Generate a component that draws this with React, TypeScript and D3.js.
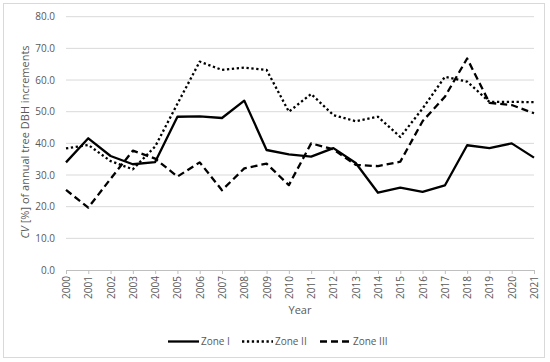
import { useEffect, useRef } from "react";
import * as d3 from "d3";

const years = [
  2000, 2001, 2002, 2003, 2004, 2005, 2006, 2007, 2008, 2009, 2010, 2011,
  2012, 2013, 2014, 2015, 2016, 2017, 2018, 2019, 2020, 2021,
];
const zone1 = [
  34.0, 41.6, 36.0, 33.4, 34.1, 48.4, 48.5, 48.0, 53.5, 37.9, 36.5, 35.8,
  38.5, 33.8, 24.4, 26.0, 24.7, 26.7, 39.4, 38.5, 40.0, 35.5,
];
const zone2 = [
  38.4, 39.5, 34.4, 31.8, 39.0, 52.5, 65.8, 63.2, 63.9, 63.2, 50.0, 55.6,
  48.9, 47.0, 48.4, 42.0, 51.0, 61.0, 59.5, 53.1, 53.1, 53.0,
];
const zone3 = [
  25.3, 19.7, 28.8, 37.7, 35.2, 29.5, 34.0, 25.2, 32.1, 33.6, 26.8, 40.0,
  38.1, 33.2, 32.8, 34.2, 47.0, 54.7, 66.8, 52.8, 52.1, 49.5,
];
const yTicks = [0, 10, 20, 30, 40, 50, 60, 70, 80];

const seriesNames = ["Zone I", "Zone II", "Zone III"];
const dashes = ["none", "2.3,2.6", "7,4"];

const FONT = "'Open Sans', 'Noto Sans', sans-serif";
const TEXT = "#595959";

export default function App() {
  const svgRef = useRef<SVGSVGElement>(null);
  const width = 550;
  const height = 362;

  useEffect(() => {
    if (!svgRef.current) return;
    const svg = d3.select(svgRef.current);
    svg.selectAll("*").remove();

    // outer frame
    svg
      .append("rect")
      .attr("x", 3.5)
      .attr("y", 3.5)
      .attr("width", 541)
      .attr("height", 354)
      .attr("fill", "white")
      .attr("stroke", "#d9d9d9");

    const x = d3.scaleLinear().domain([2000, 2021]).range([66, 534]);
    const y = d3.scaleLinear().domain([0, 80]).range([270, 16.7]);

    // gridlines
    svg
      .append("g")
      .selectAll("line")
      .data(yTicks.filter((d) => d > 0))
      .enter()
      .append("line")
      .attr("x1", 66)
      .attr("x2", 534)
      .attr("y1", (d) => y(d))
      .attr("y2", (d) => y(d))
      .attr("stroke", "#d9d9d9")
      .attr("stroke-width", 1);

    // y tick labels
    svg
      .append("g")
      .selectAll("text")
      .data(yTicks)
      .enter()
      .append("text")
      .attr("x", 55)
      .attr("y", (d) => y(d))
      .attr("dy", "0.35em")
      .attr("text-anchor", "end")
      .attr("font-family", FONT)
      .attr("font-size", 10)
      .attr("fill", TEXT)
      .text((d) => d.toFixed(1));

    // x axis
    const xAxis = svg
      .append("g")
      .attr("transform", `translate(0,${y(0)})`)
      .call(
        d3
          .axisBottom(x)
          .tickValues(years)
          .tickSize(4)
          .tickFormat((d) => String(d)),
      );
    xAxis.selectAll(".domain").attr("stroke", "#bfbfbf");
    xAxis.selectAll(".tick line").attr("stroke", "#bfbfbf");
    xAxis
      .selectAll("text")
      .attr("transform", "rotate(-90)")
      .attr("text-anchor", "end")
      .attr("x", -6)
      .attr("y", 0)
      .attr("dy", "0.35em")
      .attr("font-family", FONT)
      .attr("font-size", 10)
      .attr("fill", TEXT);

    // axis titles
    svg
      .append("text")
      .attr("x", 300)
      .attr("y", 314)
      .attr("text-anchor", "middle")
      .attr("font-family", FONT)
      .attr("font-size", 11)
      .attr("fill", TEXT)
      .text("Year");

    const yTitle = svg
      .append("text")
      .attr("transform", `translate(29,142) rotate(-90)`)
      .attr("text-anchor", "middle")
      .attr("font-family", FONT)
      .attr("font-size", 11)
      .attr("fill", TEXT);
    yTitle.append("tspan").attr("font-style", "italic").text("CV");
    yTitle.append("tspan").text(" [%] of annual tree DBH increments");

    // lines
    const all = [zone1, zone2, zone3];
    const line = d3
      .line<number>()
      .x((_d, i) => x(years[i]))
      .y((d) => y(d));

    all.forEach((vals, i) => {
      svg
        .append("path")
        .datum(vals)
        .attr("fill", "none")
        .attr("stroke", "#000")
        .attr("stroke-width", 2.3)
        .attr("stroke-linejoin", "round")
        .attr("stroke-dasharray", dashes[i])
        .attr("d", line);
    });

    // legend
    const legendX = [168, 242, 320];
    const legend = svg.append("g");
    seriesNames.forEach((name, i) => {
      legend
        .append("line")
        .attr("x1", legendX[i])
        .attr("x2", legendX[i] + 31)
        .attr("y1", 341.5)
        .attr("y2", 341.5)
        .attr("stroke", "#000")
        .attr("stroke-width", 2.3)
        .attr("stroke-dasharray", dashes[i]);
      legend
        .append("text")
        .attr("x", legendX[i] + 33)
        .attr("y", 341.5)
        .attr("dy", "0.35em")
        .attr("font-family", FONT)
        .attr("font-size", 10)
        .attr("fill", TEXT)
        .text(name);
    });
  }, []);

  return (
    <svg
      ref={svgRef}
      width={width}
      height={height}
      viewBox={`0 0 ${width} ${height}`}
      style={{ position: "fixed", left: 0, top: 0, background: "white" }}
    />
  );
}
